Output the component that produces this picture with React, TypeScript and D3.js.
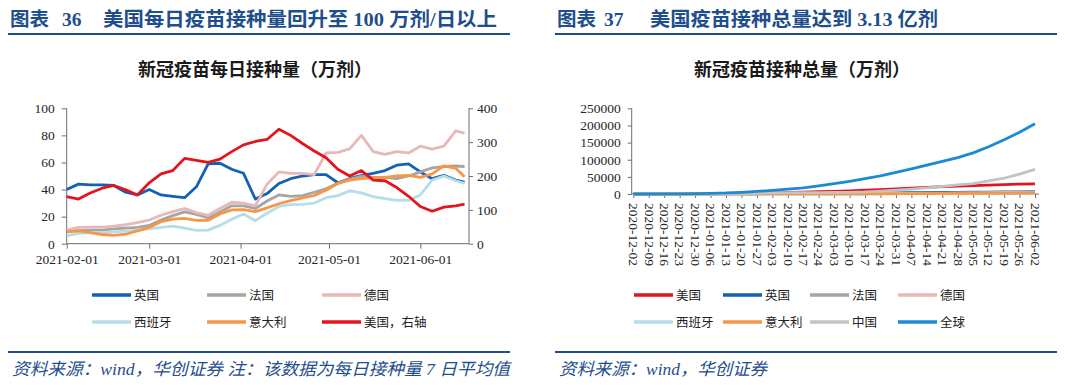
import React, { useEffect, useRef } from "react";
import * as d3 from "d3";

// 图表36：每日接种量 7 日平均（万剂），每 4 天取一个点
const dailyDates = [
  "2021-02-01", "2021-02-05", "2021-02-09", "2021-02-13", "2021-02-17", "2021-02-21", "2021-02-25",
  "2021-03-01", "2021-03-05", "2021-03-09", "2021-03-13", "2021-03-17", "2021-03-21", "2021-03-25",
  "2021-03-29", "2021-04-02", "2021-04-06", "2021-04-10", "2021-04-14", "2021-04-18", "2021-04-22",
  "2021-04-26", "2021-04-30", "2021-05-04", "2021-05-08", "2021-05-12", "2021-05-16", "2021-05-20",
  "2021-05-24", "2021-05-28", "2021-06-01", "2021-06-05", "2021-06-09", "2021-06-13", "2021-06-16",
];
const ukDaily = [40, 44, 43.5, 43.5, 43, 38, 36, 40, 36, 35, 34, 42, 59, 59.4, 55, 52, 33, 37, 44.5, 48, 50, 51, 51, 45, 48, 50.5, 52, 54, 58, 59, 53, 48, 50.5, 47, 45.5];
const frDaily = [8.9, 9.7, 10, 10, 11, 11.5, 12, 13.5, 17.5, 20.7, 23.5, 21.7, 19, 23.5, 28, 28, 26, 31.5, 36, 35, 35.5, 38, 40.5, 44.6, 47.6, 50, 49, 49, 48, 50, 53, 56, 57, 57.4, 57];
const deDaily = [10, 12, 12.3, 12.3, 13, 14, 15.5, 17.5, 21, 23.7, 26, 23, 21, 26, 30.6, 30, 28, 44, 53, 52, 52, 51, 67, 67.5, 70, 80, 68, 66, 68, 67, 72, 69.8, 72, 83.4, 81.6];
const esDaily = [5.9, 7.6, 8, 8.1, 8.7, 9.3, 10, 11, 12, 13, 11.5, 9.8, 10, 13.5, 18, 22, 17, 22.5, 27.5, 28.8, 29, 30, 34, 35.5, 39, 37.5, 34.8, 33.3, 32, 32, 36, 47, 50, 46.5, 44.6];
const itDaily = [8.9, 9.4, 8.2, 6.8, 6.2, 7, 9.5, 12, 16.3, 18.2, 18.7, 17.3, 17.3, 22, 25, 25.2, 23.7, 26.5, 29.5, 31.8, 33.8, 35.6, 39.5, 44.5, 47, 48, 49, 49, 50, 50.5, 49, 51.5, 57.5, 55.7, 49.5];
// 美国，右轴
const usDaily = [139, 132, 150, 164, 172, 159, 144, 180, 206, 216, 252, 246, 240, 250, 272, 292, 302, 308, 338, 320, 296, 274, 254, 220, 200, 216, 188, 186, 166, 140, 110, 96, 108, 112, 117];
const dailyTicks = ["2021-02-01", "2021-03-01", "2021-04-01", "2021-05-01", "2021-06-01"];

// 图表37：接种总量（万剂），每周
const weeklyDates = [
  "2020-12-02", "2020-12-09", "2020-12-16", "2020-12-23", "2020-12-30", "2021-01-06", "2021-01-13",
  "2021-01-20", "2021-01-27", "2021-02-03", "2021-02-10", "2021-02-17", "2021-02-24", "2021-03-03",
  "2021-03-10", "2021-03-17", "2021-03-24", "2021-03-31", "2021-04-07", "2021-04-14", "2021-04-21",
  "2021-04-28", "2021-05-05", "2021-05-12", "2021-05-19", "2021-05-26", "2021-06-02",
];
const usTotal = [0, 0, 20, 100, 250, 550, 1000, 1600, 2400, 3300, 4500, 5600, 6600, 7800, 9300, 11000, 13000, 15000, 17100, 19300, 21300, 23200, 24700, 26100, 27600, 28800, 29800];
const ukTotal = [0, 0, 50, 70, 100, 150, 300, 550, 800, 1050, 1350, 1650, 1900, 2150, 2350, 2600, 3000, 3500, 3800, 4100, 4500, 4900, 5200, 5500, 5900, 6200, 6500];
const frTotal = [0, 0, 0, 0, 0, 2, 25, 70, 130, 190, 250, 320, 400, 480, 580, 700, 850, 1000, 1250, 1500, 1750, 2000, 2300, 2600, 3000, 3400, 3850];
const deTotal = [0, 0, 0, 0, 10, 50, 100, 150, 200, 260, 330, 420, 520, 630, 800, 980, 1200, 1400, 1600, 1950, 2400, 2900, 3400, 3900, 4400, 4900, 5400];
const esTotal = [0, 0, 0, 0, 2, 25, 60, 110, 150, 200, 230, 270, 320, 400, 460, 520, 650, 800, 950, 1100, 1300, 1500, 1700, 2000, 2300, 2600, 2950];
const itTotal = [0, 0, 0, 0, 5, 30, 90, 130, 160, 200, 260, 320, 400, 480, 580, 690, 790, 950, 1150, 1400, 1650, 1950, 2250, 2600, 2900, 3250, 3600];
const cnTotal = [0, 0, 150, 200, 300, 500, 900, 1500, 2300, 3100, 4100, 4200, 4300, 4500, 4600, 6000, 8500, 11500, 14500, 18000, 22000, 26500, 30500, 38000, 46000, 58000, 72000];
const worldTotal = [0, 0, 200, 500, 1000, 2000, 3000, 5000, 7500, 10500, 14000, 18000, 24000, 30000, 37000, 45000, 53000, 63000, 73000, 84000, 95000, 106000, 120000, 138000, 158000, 180000, 205000];

const serif = "'Liberation Serif', 'Noto Sans CJK SC', serif";
const cjk = "'Noto Sans CJK SC', sans-serif";
const navy = "#1f4e8c";
const axisColor = "#6e6e6e";

const parse = d3.timeParse("%Y-%m-%d");

function header(svg, opts) {
  const g = svg.append("g");
  g.append("text").attr("x", opts.x).attr("y", 26).attr("font-family", serif).attr("font-size", 19.5)
    .attr("font-weight", "bold").attr("fill", navy).text("图表");
  g.append("text").attr("x", opts.numX).attr("y", 26).attr("font-family", serif).attr("font-size", 19.5)
    .attr("font-weight", "bold").attr("fill", navy).text(opts.num);
  g.append("text").attr("x", opts.titleX).attr("y", 26).attr("font-family", serif).attr("font-size", 19.5)
    .attr("font-weight", "bold").attr("fill", navy)
    .attr("textLength", opts.titleLen).attr("lengthAdjust", "spacingAndGlyphs").text(opts.title);
  g.append("line").attr("x1", opts.lx1).attr("x2", opts.lx2).attr("y1", 34).attr("y2", 34)
    .attr("stroke", navy).attr("stroke-width", 2);
  g.append("text").attr("x", opts.cx).attr("y", 76).attr("text-anchor", "middle").attr("font-family", serif)
    .attr("font-size", 18).attr("font-weight", "bold").attr("fill", "#1a1a1a").text(opts.chartTitle);
  g.append("line").attr("x1", opts.lx1).attr("x2", opts.lx2).attr("y1", 352).attr("y2", 352)
    .attr("stroke", navy).attr("stroke-width", 2);
  const src = g.append("text").attr("x", opts.x + 2).attr("y", 375).attr("font-family", serif)
    .attr("font-size", 17).attr("font-style", "italic").attr("fill", navy).text(opts.source);
  if (opts.sourceLen) src.attr("textLength", opts.sourceLen).attr("lengthAdjust", "spacingAndGlyphs");
}

function legend(svg, items, cols) {
  items.forEach((s, i) => {
    const lx = cols[i % cols.length];
    const ly = i < cols.length ? 295 : 322;
    svg.append("line").attr("x1", lx).attr("x2", lx + 39).attr("y1", ly).attr("y2", ly)
      .attr("stroke", s.color).attr("stroke-width", 3.5);
    svg.append("text").attr("x", lx + 42).attr("y", ly).attr("dy", "0.36em").attr("font-family", cjk)
      .attr("font-size", 12.5).attr("fill", "#222").text(s.name);
  });
}

function styleAxis(g) {
  g.select(".domain").remove();
  g.selectAll("line").attr("stroke", axisColor);
  g.selectAll("text").attr("font-family", serif).attr("font-size", 13.5).attr("fill", "#262626");
}

function drawDaily(svg) {
  const dates = dailyDates.map(parse);
  const x = d3.scaleTime().domain([parse("2021-02-01"), parse("2021-06-17")]).range([66.7, 467.5]);
  const yL = d3.scaleLinear().domain([0, 100]).range([243.7, 108.3]);
  const yR = d3.scaleLinear().domain([0, 400]).range([243.7, 108.3]);

  const series = [
    { name: "英国", values: ukDaily, color: "#1261b5", y: yL },
    { name: "法国", values: frDaily, color: "#a5a5a5", y: yL },
    { name: "德国", values: deDaily, color: "#e6b9b8", y: yL },
    { name: "西班牙", values: esDaily, color: "#b7dde8", y: yL },
    { name: "意大利", values: itDaily, color: "#f79646", y: yL },
    { name: "美国，右轴", values: usDaily, color: "#e3141c", y: yR },
  ];

  const g = svg.append("g");
  const ax = g.append("g").attr("transform", "translate(66.7,0)")
    .call(d3.axisLeft(yL).tickValues([0, 20, 40, 60, 80, 100]).tickSize(5).tickSizeOuter(0).tickPadding(7));
  styleAxis(ax);
  const axR = g.append("g").attr("transform", "translate(469,0)")
    .call(d3.axisRight(yR).tickValues([0, 100, 200, 300, 400]).tickSize(4).tickSizeOuter(0).tickPadding(4));
  styleAxis(axR);
  const axB = g.append("g").attr("transform", "translate(0,243.7)")
    .call(d3.axisBottom(x).tickValues(dailyTicks.map(parse)).tickFormat(d3.timeFormat("%Y-%m-%d"))
      .tickSize(5).tickSizeOuter(0).tickPadding(6));
  styleAxis(axB);
  g.append("line").attr("x1", 66.7).attr("x2", 66.7).attr("y1", 108.3).attr("y2", 243.7).attr("stroke", axisColor);
  g.append("line").attr("x1", 469).attr("x2", 469).attr("y1", 108.3).attr("y2", 243.7).attr("stroke", axisColor);
  g.append("line").attr("x1", 66.7).attr("x2", 469).attr("y1", 243.7).attr("y2", 243.7).attr("stroke", axisColor);

  series.forEach((s) => {
    const line = d3.line<number>().x((_, i) => x(dates[i])).y((v) => s.y(v));
    g.append("path").attr("d", line(s.values)).attr("fill", "none").attr("stroke", s.color)
      .attr("stroke-width", 2.8).attr("stroke-linejoin", "round");
  });

  legend(svg, series, [92, 207, 322]);
}

function drawTotal(svg) {
  const dates = weeklyDates.map(parse);
  const x = d3.scaleTime().domain([dates[0], dates[dates.length - 1]]).range([633.3, 1035]);
  const y = d3.scaleLinear().domain([0, 250000]).range([194, 108.3]);

  const series = [
    { name: "美国", values: usTotal, color: "#e3141c" },
    { name: "英国", values: ukTotal, color: "#1261b5" },
    { name: "法国", values: frTotal, color: "#a5a5a5" },
    { name: "德国", values: deTotal, color: "#e6b9b8" },
    { name: "西班牙", values: esTotal, color: "#b7dde8" },
    { name: "意大利", values: itTotal, color: "#f79646" },
    { name: "中国", values: cnTotal, color: "#c3c3c3" },
    { name: "全球", values: worldTotal, color: "#1a8ad6" },
  ];

  const g = svg.append("g");
  const ay = g.append("g").attr("transform", "translate(631.7,0)")
    .call(d3.axisLeft(y).tickValues([0, 50000, 100000, 150000, 200000, 250000]).tickFormat(d3.format("d"))
      .tickSize(4).tickSizeOuter(0).tickPadding(7));
  styleAxis(ay);
  const axB = g.append("g").attr("transform", "translate(0,194)")
    .call(d3.axisBottom(x).tickValues(dates).tickFormat(d3.timeFormat("%Y-%m-%d")).tickSize(4).tickSizeOuter(0));
  styleAxis(axB);
  axB.selectAll("text").attr("transform", "rotate(90)").attr("x", 9).attr("y", 0).attr("dy", "0.35em")
    .attr("text-anchor", "start");
  g.append("line").attr("x1", 631.7).attr("x2", 631.7).attr("y1", 108.3).attr("y2", 194).attr("stroke", axisColor);
  g.append("line").attr("x1", 631.7).attr("x2", 1039).attr("y1", 194).attr("y2", 194).attr("stroke", axisColor);

  series.forEach((s) => {
    const line = d3.line<number>().x((_, i) => x(dates[i])).y((v) => y(v));
    g.append("path").attr("d", line(s.values)).attr("fill", "none").attr("stroke", s.color)
      .attr("stroke-width", 2.8).attr("stroke-linejoin", "round");
  });

  legend(svg, series, [634, 723, 810, 898]);
}

export default function App() {
  const ref = useRef<SVGSVGElement>(null);

  useEffect(() => {
    document.body.style.margin = "0";
    const svg = d3.select(ref.current);
    svg.selectAll("*").remove();

    header(svg, {
      x: 10, numX: 62, num: "36", titleX: 103, titleLen: 394,
      title: "美国每日疫苗接种量回升至 100 万剂/日以上",
      lx1: 8, lx2: 510, cx: 255, chartTitle: "新冠疫苗每日接种量（万剂）",
      source: "资料来源：wind，华创证券 注：该数据为每日接种量 7 日平均值", sourceLen: 498,
    });
    header(svg, {
      x: 557, numX: 604, num: "37", titleX: 650, titleLen: 288,
      title: "美国疫苗接种总量达到 3.13 亿剂",
      lx1: 555, lx2: 1057, cx: 802, chartTitle: "新冠疫苗接种总量（万剂）",
      source: "资料来源：wind，华创证券", sourceLen: 208,
    });

    drawDaily(svg);
    drawTotal(svg);
  }, []);

  return <svg ref={ref} width={1080} height={385} style={{ display: "block", background: "#fff" }} />;
}
